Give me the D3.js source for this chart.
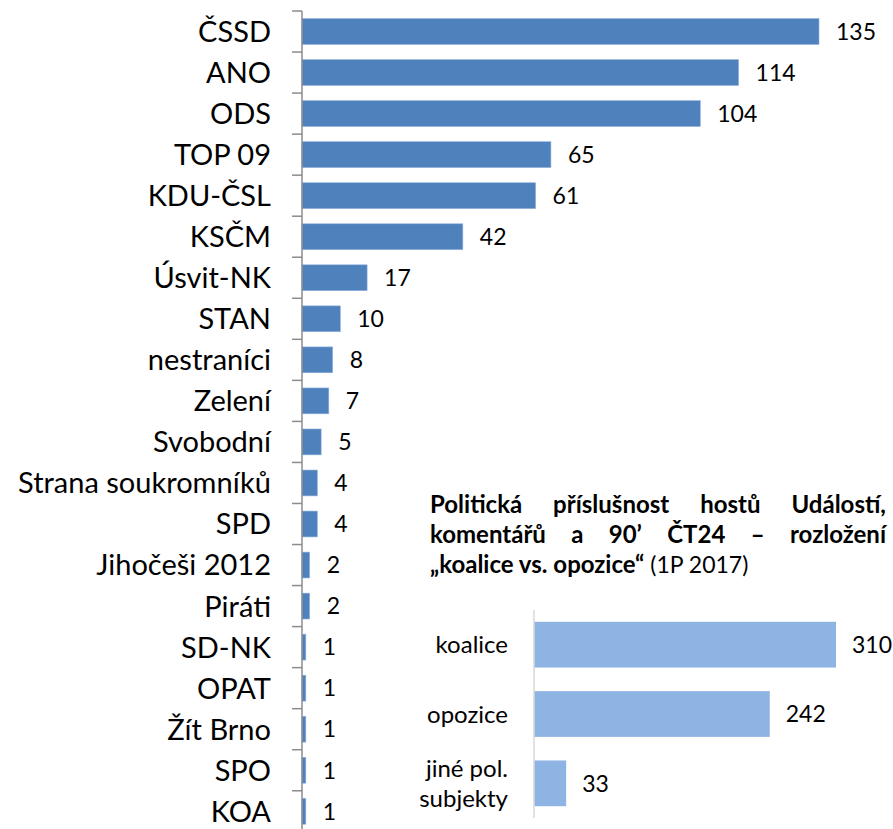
<!DOCTYPE html>
<html>
<head>
<meta charset="utf-8">
<script src="https://cdn.jsdelivr.net/npm/d3@7"></script>
<style>
  body { margin: 0; background: #fff; }
  svg { display: block; font-family: Lato, "Open Sans", sans-serif; }
</style>
</head>
<body>
<svg id="chart" width="893" height="829"></svg>
<script>
// main chart data
const parties = ["ČSSD", "ANO", "ODS", "TOP 09", "KDU-ČSL", "KSČM", "Úsvit-NK", "STAN", "nestraníci",
  "Zelení", "Svobodní", "Strana soukromníků", "SPD", "Jihočeši 2012", "Piráti", "SD-NK", "OPAT",
  "Žít Brno", "SPO", "KOA"];
const guests = [135, 114, 104, 65, 61, 42, 17, 10, 8, 7, 5, 4, 4, 2, 2, 1, 1, 1, 1, 1];

// inset data
const blocs = ["koalice", "opozice", "jiné pol. subjekty"];
const blocLabels = [["koalice"], ["opozice"], ["jiné pol.", "subjekty"]];
const blocValues = [310, 242, 33];
const titleLines = [
  "Politická příslušnost hostů Událostí,",
  "komentářů a 90’ ČT24 – rozložení"
];
const titleBold = "„koalice vs. opozice“";
const titleRest = " (1P 2017)";

const svg = d3.select("#chart");

// ---- main bar chart ----
const x = d3.scaleLinear().domain([0, 135]).range([302, 819]);
const y = d3.scaleBand().domain(parties).range([11, 11 + 20 * 41.04])
  .paddingInner(0.37).paddingOuter(0.185);

const main = svg.append("g");

main.selectAll("rect.bar")
  .data(parties)
  .enter().append("rect")
  .attr("class", "bar")
  .attr("x", x(0))
  .attr("y", d => y(d))
  .attr("width", (d, i) => x(guests[i]) - x(0))
  .attr("height", y.bandwidth())
  .attr("fill", "#4f81bd")
  .attr("stroke", "#8fb1dc")
  .attr("stroke-width", 0.6);

// axis line + ticks on band boundaries
const half = y.paddingInner() * y.step() / 2;
const bounds = parties.map(d => y(d) - half).concat([y(parties[parties.length - 1]) + y.bandwidth() + half]);
main.append("line")
  .attr("x1", x(0)).attr("x2", x(0))
  .attr("y1", bounds[0]).attr("y2", bounds[bounds.length - 1])
  .attr("stroke", "#8c8c8c").attr("stroke-width", 1.5);
main.selectAll("line.tick")
  .data(bounds)
  .enter().append("line")
  .attr("class", "tick")
  .attr("x1", x(0) - 10).attr("x2", x(0))
  .attr("y1", d => d).attr("y2", d => d)
  .attr("stroke", "#8c8c8c").attr("stroke-width", 1.5);

main.selectAll("text.cat")
  .data(parties)
  .enter().append("text")
  .attr("class", "cat")
  .attr("x", 271)
  .attr("y", d => y(d) + y.bandwidth() / 2)
  .attr("dy", "0.36em")
  .attr("text-anchor", "end")
  .attr("font-size", 29)
  .attr("fill", "#000")
  .text(d => d);

main.selectAll("text.val")
  .data(parties)
  .enter().append("text")
  .attr("class", "val")
  .attr("x", (d, i) => x(guests[i]) + 17)
  .attr("y", d => y(d) + y.bandwidth() / 2)
  .attr("dy", "0.36em")
  .attr("font-size", 23)
  .attr("fill", "#000")
  .text((d, i) => guests[i]);

// ---- inset ----
const inset = svg.append("g");
const left = 430, right = 886;

// justified title lines
titleLines.forEach((line, li) => {
  const words = line.split(" ");
  const base = 513 + li * 30;
  const nodes = words.map(w => inset.append("text")
    .attr("y", base).attr("font-size", 24).attr("font-weight", "bold").text(w));
  const widths = nodes.map(n => n.node().getComputedTextLength());
  const gap = (right - left - d3.sum(widths)) / (words.length - 1);
  let cx = left;
  nodes.forEach((n, i) => { n.attr("x", cx); cx += widths[i] + gap; });
});
const t3 = inset.append("text").attr("x", left).attr("y", 573).attr("font-size", 24);
t3.append("tspan").attr("font-weight", "bold").text(titleBold);
t3.append("tspan").attr("font-size", 23).text(titleRest);

const x2 = d3.scaleLinear().domain([0, 310]).range([534, 836]);
const y2 = d3.scaleBand().domain(blocs).range([610, 818])
  .paddingInner(0.34).paddingOuter(0.17);

inset.selectAll("rect.bar2")
  .data(blocs)
  .enter().append("rect")
  .attr("class", "bar2")
  .attr("x", x2(0))
  .attr("y", d => y2(d))
  .attr("width", (d, i) => x2(blocValues[i]) - x2(0))
  .attr("height", y2.bandwidth())
  .attr("fill", "#8eb4e3");

inset.append("line")
  .attr("x1", x2(0)).attr("x2", x2(0))
  .attr("y1", 610).attr("y2", 818)
  .attr("stroke", "#d9d9d9").attr("stroke-width", 1.5);

blocs.forEach((b, i) => {
  const lines = blocLabels[i];
  const cy = y2(b) + y2.bandwidth() / 2;
  const t = inset.append("text")
    .attr("x", 508)
    .attr("text-anchor", "end")
    .attr("font-size", 24)
    .attr("fill", "#000");
  lines.forEach((l, k) => {
    t.append("tspan")
      .attr("x", 508)
      .attr("y", cy + (k - (lines.length - 1) / 2) * 30)
      .attr("dy", "0.36em")
      .text(l);
  });
});

inset.selectAll("text.val2")
  .data(blocs)
  .enter().append("text")
  .attr("class", "val2")
  .attr("x", (d, i) => x2(blocValues[i]) + 16)
  .attr("y", d => y2(d) + y2.bandwidth() / 2)
  .attr("dy", "0.36em")
  .attr("font-size", 23)
  .attr("fill", "#000")
  .text((d, i) => blocValues[i]);
</script>
</body>
</html>
